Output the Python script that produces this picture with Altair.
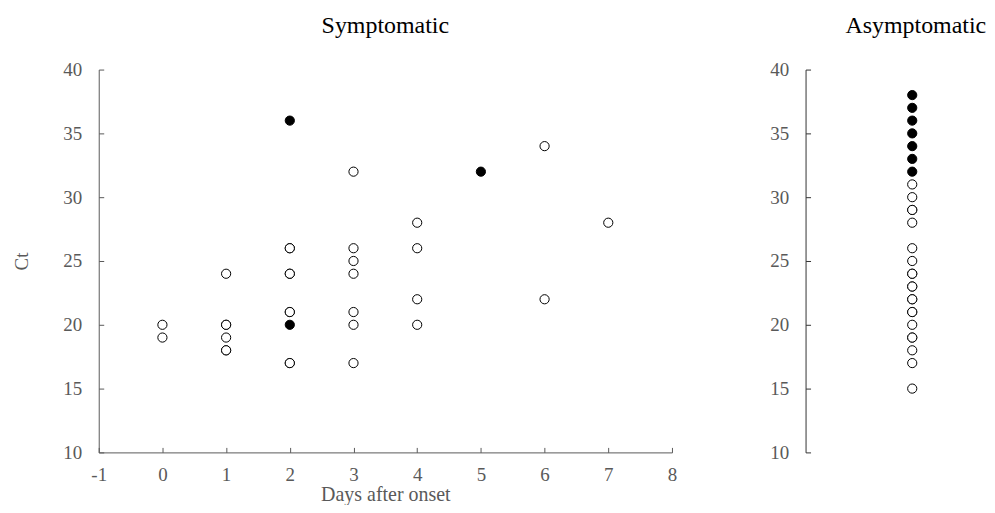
import altair as alt
import pandas as pd

# Symptomatic: days after onset, Ct value, filled (1 = solid dot)
sym_days = [0, 0, 1, 1, 1, 1, 1, 1, 2, 2, 2, 2, 2, 2, 2, 2, 2, 2, 3, 3, 3, 3, 3, 3, 3, 4, 4, 4, 4, 5, 6, 6, 7]
sym_ct   = [20, 19, 24, 20, 20, 19, 18, 18, 36, 26, 26, 24, 24, 21, 21, 20, 17, 17, 32, 26, 25, 24, 21, 20, 17, 28, 26, 22, 20, 32, 34, 22, 28]
sym_fill = [0, 0, 0, 0, 0, 0, 0, 0, 1, 0, 0, 0, 0, 0, 0, 1, 0, 0, 0, 0, 0, 0, 0, 0, 0, 0, 0, 0, 0, 1, 0, 0, 0]

# Asymptomatic: Ct values, filled
asym_ct   = [38, 37, 36, 35, 34, 33, 32, 31, 30, 29, 29, 28, 26, 25, 24, 24, 23, 23, 22, 22, 21, 21, 20, 19, 19, 18, 17, 15]
asym_fill = [1, 1, 1, 1, 1, 1, 1, 0, 0, 0, 0, 0, 0, 0, 0, 0, 0, 0, 0, 0, 0, 0, 0, 0, 0, 0, 0, 0]

x_ticks = list(range(-1, 9))
y_ticks = [10, 15, 20, 25, 30, 35, 40]

sym = pd.DataFrame({"day": sym_days, "ct": sym_ct,
                    "kind": ["filled" if f else "open" for f in sym_fill]})
asym = pd.DataFrame({"ct": asym_ct, "kind": ["filled" if f else "open" for f in asym_fill]})

FONT = "Liberation Serif"
AX = "#595959"
LBL = 19

fill_scale = alt.Scale(domain=["open", "filled"], range=["white", "black"])

yaxis = alt.Axis(values=y_ticks, grid=False, domainColor=AX, tickColor=AX,
                 tickSize={"expr": "-5"}, labelFont=FONT, labelFontSize=LBL, labelColor=AX,
                 labelPadding=22, titleFont=FONT, titleFontSize=19, titleColor=AX,
                 titleFontWeight="normal", titleAngle=-90, titlePadding=31)

left = alt.Chart(sym).mark_point(shape="circle", size=85, stroke="black", strokeWidth=1, opacity=1, filled=False).encode(
    x=alt.X("day:Q", title="Days after onset",
            scale=alt.Scale(domain=[-1, 8], nice=False, zero=False),
            axis=alt.Axis(values=x_ticks, grid=False, domainColor=AX, tickColor=AX,
                          tickSize={"expr": "-5"}, labelFont=FONT, labelFontSize=LBL, labelColor=AX,
                          labelPadding=18, labelExpr="'' + datum.value", labelFlush=False,
                          titleFont=FONT, titleFontSize=20, titleColor=AX,
                          titleFontWeight="normal", titlePadding=0)),
    y=alt.Y("ct:Q", title="Ct", scale=alt.Scale(domain=[10, 40], nice=False, zero=False), axis=yaxis),
    fill=alt.Fill("kind:N", scale=fill_scale, legend=None),
).properties(width=575, height=384,
             title=alt.TitleParams("Symptomatic", font=FONT, fontSize=24, fontWeight="normal",
                                   color="black", anchor="middle", offset=23))

yaxis_r = alt.Axis(values=y_ticks, grid=False, domainColor="#333", tickColor="#333",
                   tickSize={"expr": "-5"}, labelFont=FONT, labelFontSize=LBL, labelColor=AX,
                   labelPadding=22, title=None)

right = alt.Chart(asym).mark_point(shape="circle", size=85, stroke="black", strokeWidth=1, opacity=1, filled=False).encode(
    x=alt.value(107),
    y=alt.Y("ct:Q", scale=alt.Scale(domain=[10, 40], nice=False, zero=False), axis=yaxis_r),
    fill=alt.Fill("kind:N", scale=fill_scale, legend=None),
).properties(width=165, height=384,
             title=alt.TitleParams("Asymptomatic", font=FONT, fontSize=24, fontWeight="normal",
                                   color="black", anchor="start", dx=76, offset=23))

chart = alt.hconcat(left, right, spacing=93).configure_view(stroke=None).properties(
    padding={"left": 5, "top": 5, "right": 0, "bottom": 0})

chart.save("out.html", embed_options={"renderer": "svg", "actions": False})
